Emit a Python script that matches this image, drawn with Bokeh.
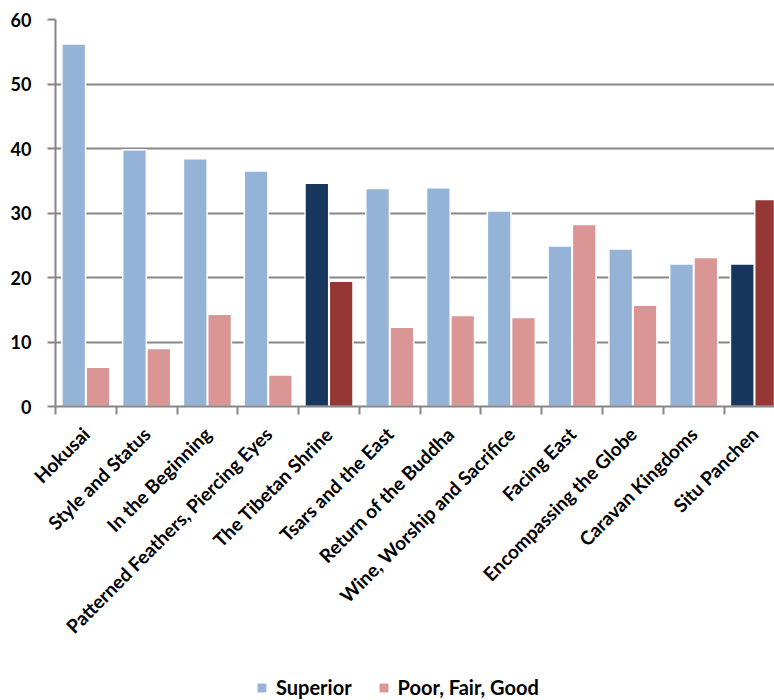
import math
from bokeh.plotting import figure
from bokeh.layouts import column
from bokeh.models import ColumnDataSource, Range1d, FixedTicker, Legend, LegendItem
from bokeh.embed import file_html
from bokeh.resources import INLINE

# Exhibition titles and their visitor ratings (percent of respondents)
exhibitions = [
    "Hokusai", "Style and Status", "In the Beginning",
    "Patterned Feathers, Piercing Eyes", "The Tibetan Shrine",
    "Tsars and the East", "Return of the Buddha",
    "Wine, Worship and Sacrifice", "Facing East",
    "Encompassing the Globe", "Caravan Kingdoms", "Situ Panchen",
]
superior = [56.2, 39.8, 38.4, 36.5, 34.6, 33.8, 33.9, 30.3, 24.9, 24.4, 22.1, 22.1]
poor_fair_good = [6.1, 9.0, 14.3, 4.9, 19.4, 12.3, 14.1, 13.8, 28.2, 15.7, 23.1, 32.1]
highlighted = ["The Tibetan Shrine", "Situ Panchen"]
y_ticks = [0, 10, 20, 30, 40, 50, 60]
series_labels = ["Superior", "Poor, Fair, Good"]

BLUE, BLUE_DARK = "#95B3D7", "#17375E"
RED, RED_DARK = "#D99694", "#953735"
GRID = "#868686"
FONT = "Lato"

n = len(exhibitions)
centers = [i + 0.5 for i in range(n)]
source = ColumnDataSource(dict(
    name=exhibitions,
    x_sup=[c - 0.2 for c in centers],
    x_pfg=[c + 0.2 for c in centers],
    superior=superior,
    pfg=poor_fair_good,
    c_sup=[BLUE_DARK if e in highlighted else BLUE for e in exhibitions],
    c_pfg=[RED_DARK if e in highlighted else RED for e in exhibitions],
))

# ---- main chart -------------------------------------------------------
p = figure(width=774, height=660, output_backend="svg", toolbar_location=None,
           x_range=Range1d(0, 11.83), y_range=Range1d(0, 60),
           min_border_left=55, min_border_right=0, min_border_top=19,
           min_border_bottom=254)
p.outline_line_color = None

p.vbar(x="x_sup", top="superior", width=0.39, source=source,
       fill_color="c_sup", line_color="white", line_width=1.5)
p.vbar(x="x_pfg", top="pfg", width=0.39, source=source,
       fill_color="c_pfg", line_color="white", line_width=1.5)

# y axis
p.yaxis.ticker = FixedTicker(ticks=y_ticks)
p.yaxis.axis_line_color = GRID
p.yaxis.axis_line_width = 2
p.yaxis.major_tick_line_color = GRID
p.yaxis.major_tick_line_width = 2
p.yaxis.major_tick_out = 8
p.yaxis.major_tick_in = 0
p.yaxis.minor_tick_line_color = None
p.yaxis.major_label_standoff = 16
p.yaxis.major_label_text_font = FONT
p.yaxis.major_label_text_font_style = "bold"
p.yaxis.major_label_text_font_size = "18px"
p.yaxis.major_label_text_color = "black"

# x axis: labels at category centres, tick marks at category boundaries
p.xaxis.ticker = FixedTicker(ticks=centers, minor_ticks=list(range(n + 1)))
p.xaxis.major_label_overrides = {c: e for c, e in zip(centers, exhibitions)}
p.xaxis.major_label_orientation = math.pi / 4
p.xaxis.axis_line_color = GRID
p.xaxis.axis_line_width = 2
p.xaxis.major_tick_line_color = None
p.xaxis.minor_tick_line_color = GRID
p.xaxis.minor_tick_line_width = 2
p.xaxis.minor_tick_out = 8
p.xaxis.minor_tick_in = 0
p.xaxis.major_label_standoff = 16
p.xaxis.major_label_text_font = FONT
p.xaxis.major_label_text_font_style = "bold"
p.xaxis.major_label_text_font_size = "19px"
p.xaxis.major_label_text_color = "black"

p.xgrid.grid_line_color = None
p.ygrid.ticker = FixedTicker(ticks=y_ticks[1:])
p.ygrid.grid_line_color = GRID
p.ygrid.grid_line_width = 2

# ---- legend strip -------------------------------------------------------
# zero-height swatch renderers: only their legend glyphs are visible
lg = figure(width=774, height=40, output_backend="svg", toolbar_location=None,
            x_axis_type=None, y_axis_type=None,
            x_range=Range1d(0, 1), y_range=Range1d(0, 1),
            min_border=0)
lg.outline_line_color = None
swatches = [
    lg.vbar(x=[0.5], top=[0], bottom=[0], width=0.1, fill_color=c,
            line_color=None)
    for c in (BLUE, RED)
]
legend = Legend(items=[LegendItem(label=t, renderers=[r])
                       for t, r in zip(series_labels, swatches)],
                orientation="horizontal", location=(201, 1))
legend.border_line_color = None
legend.background_fill_alpha = 0
legend.padding = 0
legend.margin = 0
legend.spacing = 26
legend.glyph_width = 11
legend.glyph_height = 11
legend.label_standoff = 9
legend.label_height = 24
legend.label_text_font = FONT
legend.label_text_font_style = "bold"
legend.label_text_font_size = "20px"
legend.label_text_color = "black"
lg.add_layout(legend, "center")

layout = column(p, lg, spacing=0)
open("out.html", "w").write(file_html(layout, INLINE))
